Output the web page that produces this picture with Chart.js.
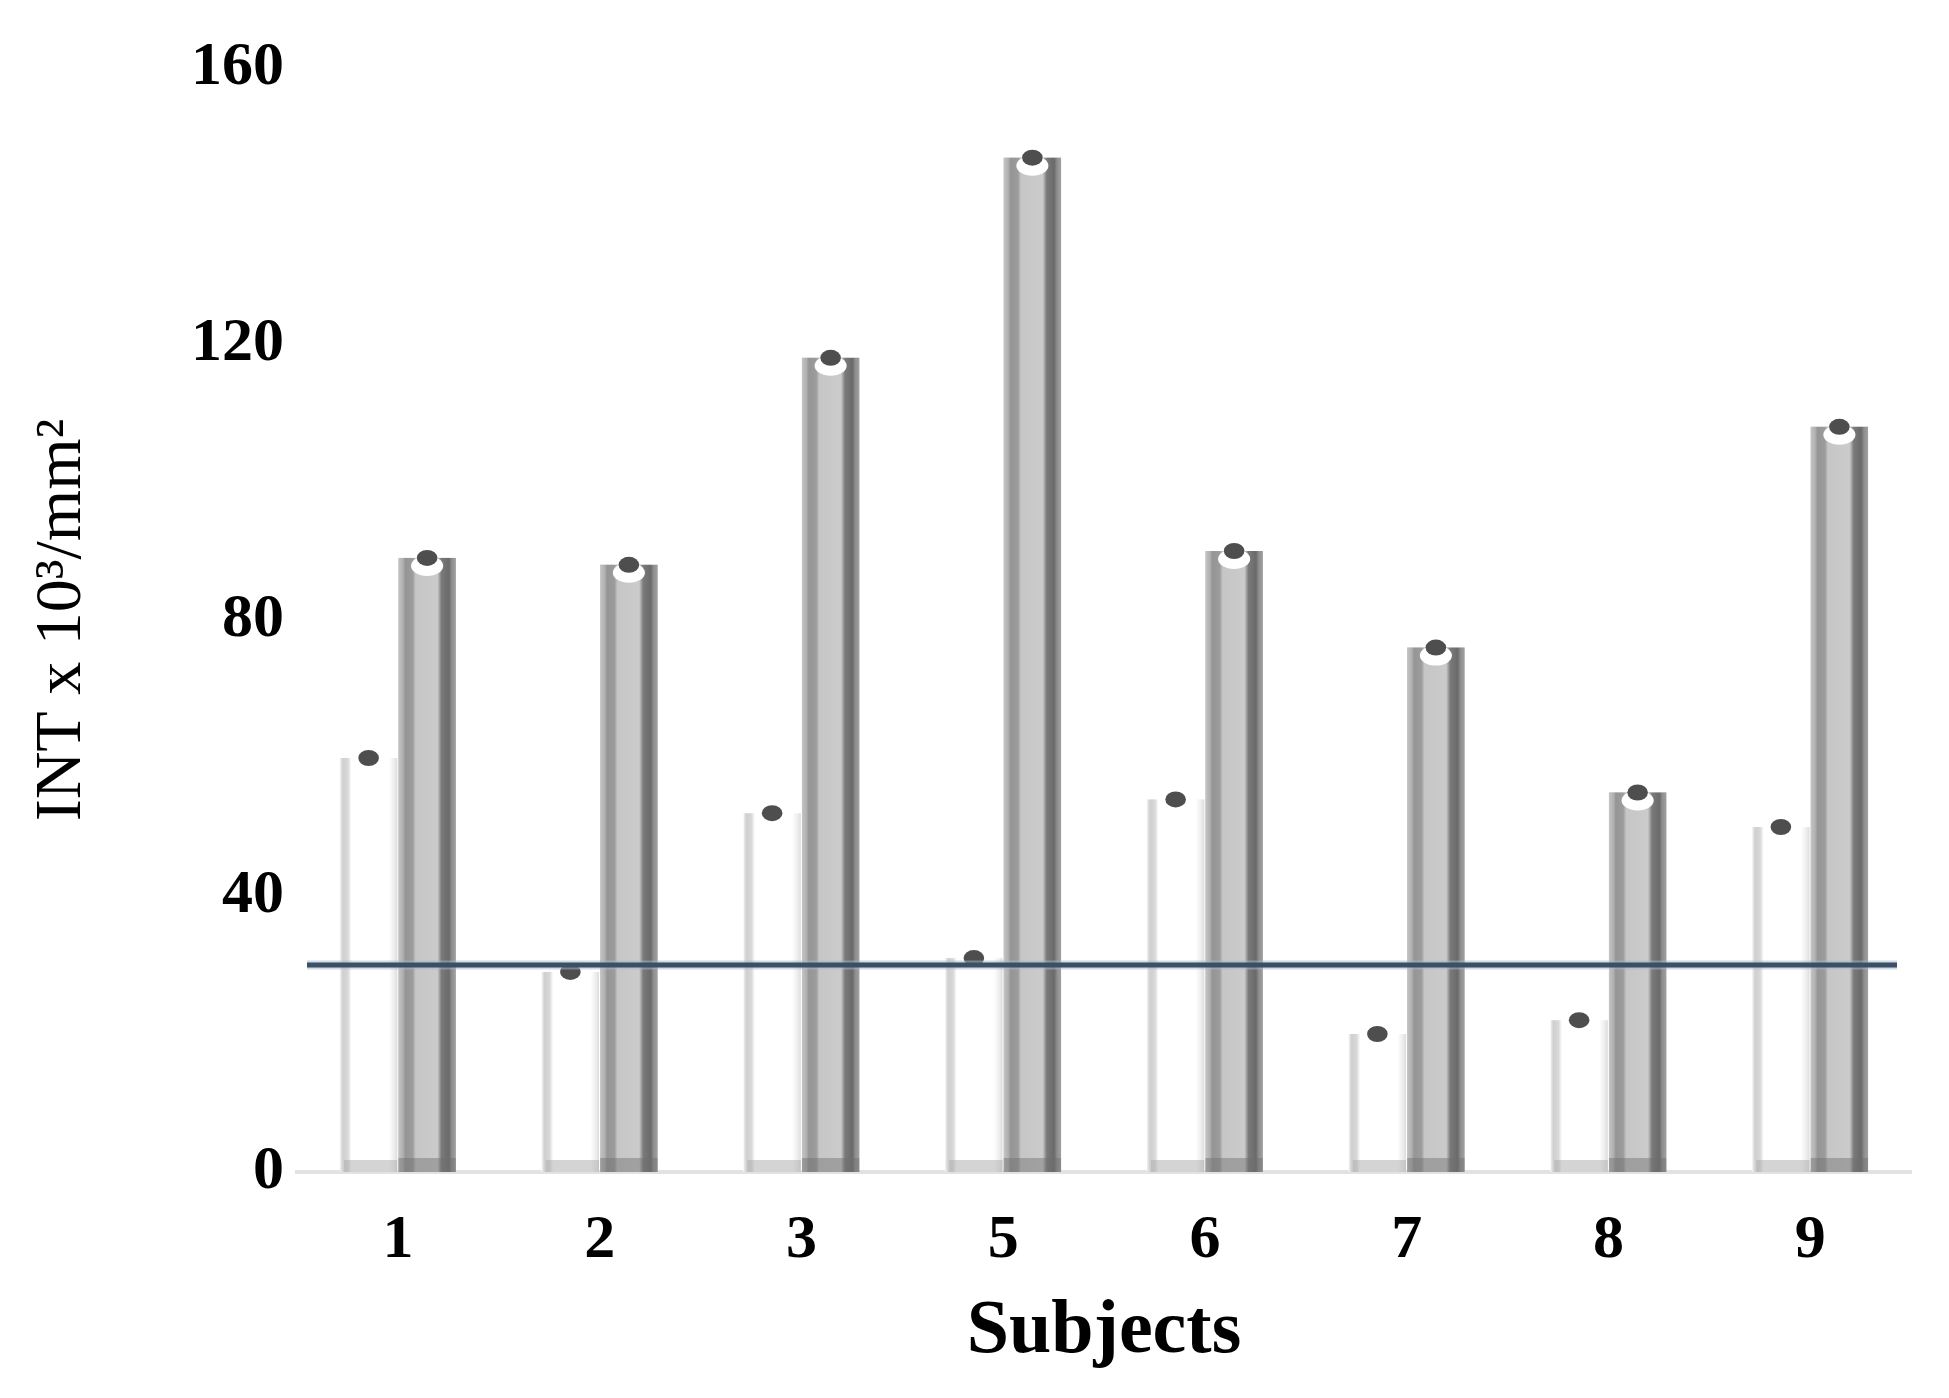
<!DOCTYPE html>
<html><head><meta charset="utf-8">
<script src="https://cdn.jsdelivr.net/npm/chart.js@4.4.0/dist/chart.umd.min.js"></script>
<style>html,body{margin:0;padding:0;background:#fff;}#wrap{width:1949px;height:1398px;}</style>
</head><body><div id="wrap"><canvas id="c" width="1949" height="1398"></canvas></div>
<script>
const subjects = ['1', '2', '3', '5', '6', '7', '8', '9'];
const seriesWhite = [60, 29, 52, 31, 54, 20, 22, 50];
const seriesGray = [89, 88, 118, 147, 90, 76, 55, 108];
const yTicks = [0, 40, 80, 120, 160];
const thresholdValue = 30;
const yTitle = 'INT x 10\u00B3/mm\u00B2';
const xTitle = 'Subjects';

const cylinderPlugin = {
  id: 'cylinder',
  afterDatasetsDraw(chart) {
    const ctx = chart.ctx;
    ctx.save();
    chart.data.datasets.forEach((ds, di) => {
      const meta = chart.getDatasetMeta(di);
      meta.data.forEach(bar => {
        const p = bar.getProps(['x', 'y', 'base', 'width'], true);
        const l = p.x - p.width / 2, r = p.x + p.width / 2, w = p.width;
        if (di === 1) {
          const g = ctx.createLinearGradient(l, 0, r, 0);
          g.addColorStop(0, '#c4c4c4');
          g.addColorStop(0.08, '#b0b0b0');
          g.addColorStop(0.12, '#959595');
          g.addColorStop(0.25, '#9c9c9c');
          g.addColorStop(0.3, '#c6c6c6');
          g.addColorStop(0.68, '#cbcbcb');
          g.addColorStop(0.75, '#7a7a7a');
          g.addColorStop(0.88, '#6a6a6a');
          g.addColorStop(0.93, '#8e8e8e');
          g.addColorStop(1, '#a0a0a0');
          ctx.fillStyle = g;
          ctx.fillRect(l, p.y, w, p.base - p.y);
          ctx.fillStyle = 'rgba(110,110,110,0.45)';
          ctx.fillRect(l, p.base - 14, w, 14);
        } else {
          const g = ctx.createLinearGradient(l, 0, r, 0);
          g.addColorStop(0, '#f2f2f2');
          g.addColorStop(0.05, '#cfcfcf');
          g.addColorStop(0.14, '#d8d8d8');
          g.addColorStop(0.2, '#ffffff');
          g.addColorStop(0.85, '#ffffff');
          g.addColorStop(0.95, '#ececec');
          g.addColorStop(1, '#dcdcdc');
          ctx.fillStyle = g;
          ctx.fillRect(l, p.y, w, p.base - p.y);
          ctx.fillStyle = 'rgba(170,170,170,0.5)';
          ctx.fillRect(l + 4, p.base - 12, w - 4, 12);
        }
        ctx.fillStyle = '#ffffff';
        ctx.beginPath();
        ctx.ellipse(p.x, p.y + 8, w * 0.28, 10, 0, 0, Math.PI * 2);
        ctx.fill();
        ctx.fillStyle = '#4e4e4e';
        ctx.beginPath();
        ctx.ellipse(p.x, p.y, w * 0.18, 8, 0, 0, Math.PI * 2);
        ctx.fill();
      });
    });
    ctx.restore();
  }
};

const thresholdPlugin = {
  id: 'threshold',
  afterDatasetsDraw(chart) {
    const {ctx, chartArea, scales} = chart;
    const yy = scales.y.getPixelForValue(thresholdValue);
    ctx.save();
    ctx.strokeStyle = 'rgba(160,185,210,0.5)';
    ctx.lineWidth = 9;
    ctx.beginPath();
    ctx.moveTo(chartArea.left + 10, yy);
    ctx.lineTo(chartArea.right - 14, yy);
    ctx.stroke();
    ctx.strokeStyle = '#3c4f64';
    ctx.lineWidth = 5;
    ctx.beginPath();
    ctx.moveTo(chartArea.left + 10, yy);
    ctx.lineTo(chartArea.right - 14, yy);
    ctx.stroke();
    ctx.restore();
  }
};

new Chart(document.getElementById('c'), {
  type: 'bar',
  data: {
    labels: subjects,
    datasets: [
      { label: 'white', data: seriesWhite, backgroundColor: '#ffffff', borderWidth: 0 },
      { label: 'gray', data: seriesGray, backgroundColor: '#c4c4c4', borderWidth: 0 }
    ]
  },
  options: {
    responsive: false,
    animation: false,
    devicePixelRatio: 1,
    layout: { padding: { left: 18, right: 38, top: 68, bottom: 0 } },
    datasets: { bar: { barPercentage: 0.98, categoryPercentage: 0.58 } },
    plugins: { legend: { display: false }, tooltip: { enabled: false } },
    scales: {
      x: {
        grid: { display: false },
        border: { display: true, color: '#e2e2e2', width: 4 },
        ticks: { color: '#000', padding: 24, font: { family: 'Liberation Serif', weight: 'bold', size: 62, lineHeight: 1.2 } },
        title: { display: true, text: xTitle, color: '#000', padding: { top: 0, bottom: 20 },
                 font: { family: 'Liberation Serif', weight: 'bold', size: 76, lineHeight: 1.2 } },
        afterFit(s) { s.height = 226; }
      },
      y: {
        min: 0, max: 160,
        grid: { display: false },
        border: { display: false },
        afterBuildTicks(s) { s.ticks = yTicks.map(v => ({ value: v })); },
        ticks: { color: '#000', padding: 5, font: { family: 'Liberation Serif', weight: 'bold', size: 62, lineHeight: 1.2 } },
        title: { display: true, text: yTitle, color: '#000', padding: { top: 5, bottom: 5 },
                 font: { family: 'Liberation Serif', weight: 'normal', size: 66, lineHeight: 1.2 } },
        afterFit(s) { s.width = 279; }
      }
    }
  },
  plugins: [cylinderPlugin, thresholdPlugin]
});
</script></body></html>
